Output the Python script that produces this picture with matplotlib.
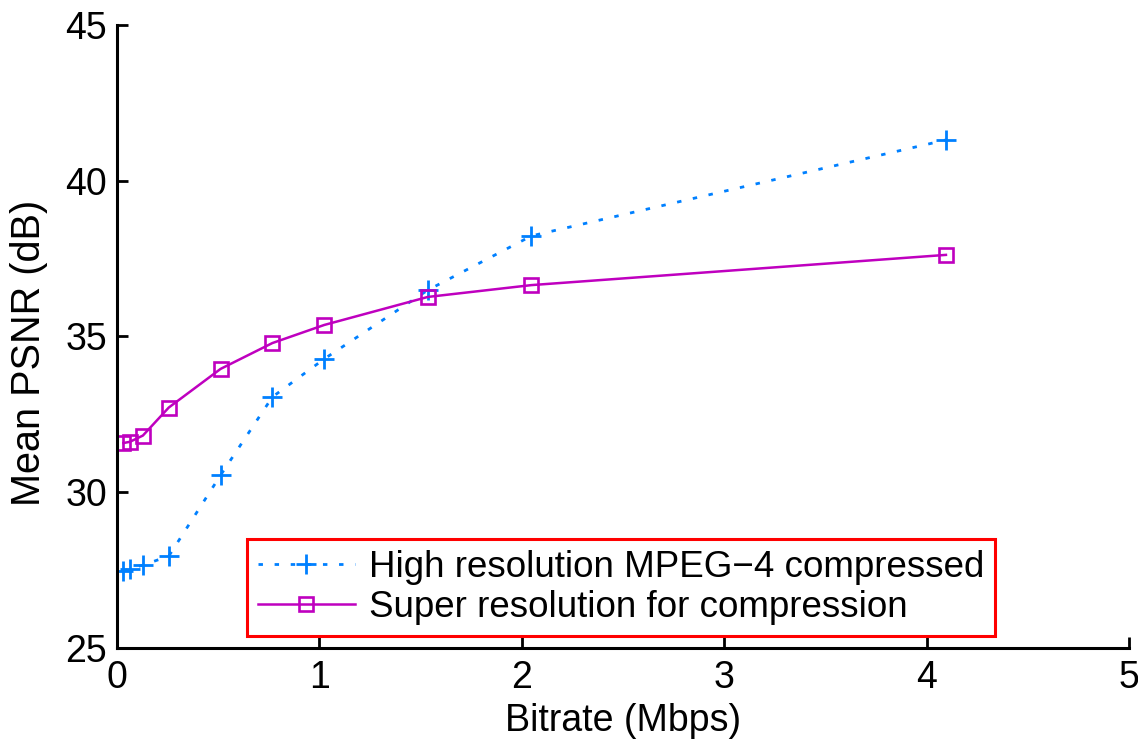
import matplotlib.pyplot as plt

plt.rcParams['font.family'] = ['Liberation Sans', 'DejaVu Sans']

# bitrate in Mbps
bitrate = [0.032, 0.064, 0.128, 0.256, 0.512, 0.768, 1.024, 1.536, 2.048, 4.096]
psnr_hr = [27.47, 27.55, 27.66, 27.95, 30.55, 33.06, 34.28, 36.49, 38.23, 41.31]
psnr_sr = [31.58, 31.62, 31.82, 32.72, 33.96, 34.79, 35.37, 36.27, 36.65, 37.62]

labels = ['High resolution MPEG\u22124 compressed', 'Super resolution for compression']

fig = plt.figure(figsize=(11.38, 7.42), dpi=100)
ax = fig.add_axes([0.1028, 0.1267, 0.8892, 0.8396])

ax.plot(bitrate, psnr_hr, color='#0080FF', linestyle=(0, (1.6, 4.2)), linewidth=2,
        marker='+', markersize=15, markeredgewidth=2, label=labels[0])
ax.plot(bitrate, psnr_sr, color='#BF00BF', linestyle='-', linewidth=1.8,
        marker='s', markersize=10, markerfacecolor='none', markeredgewidth=1.9,
        label=labels[1])

ax.set_xlim(0, 5)
ax.set_ylim(25, 45)
ax.set_xticks([0, 1, 2, 3, 4, 5])
ax.set_yticks([25, 30, 35, 40, 45])

for s in ['top', 'right']:
    ax.spines[s].set_visible(False)
for s in ['left', 'bottom']:
    ax.spines[s].set_linewidth(2.2)

ax.tick_params(direction='in', length=8, width=2, labelsize=27)
ax.tick_params(axis='x', pad=9)
ax.tick_params(axis='y', pad=7)

ax.set_xlabel('Bitrate (Mbps)', fontsize=27)
ax.xaxis.set_label_coords(0.5, -0.088)
ax.set_ylabel('Mean PSNR (dB)', fontsize=28.5)
ax.yaxis.set_label_coords(-0.068, 0.4735)

leg = ax.legend(loc='lower left', bbox_to_anchor=(0.128, 0.019), fontsize=26.5,
                fancybox=False, framealpha=1, handlelength=2.65, borderpad=0.3,
                labelspacing=0.15, handletextpad=0.38, borderaxespad=0)
leg.get_frame().set_edgecolor('#FF0000')
leg.get_frame().set_linewidth(2.2)

plt.savefig('out.png', dpi=100)
